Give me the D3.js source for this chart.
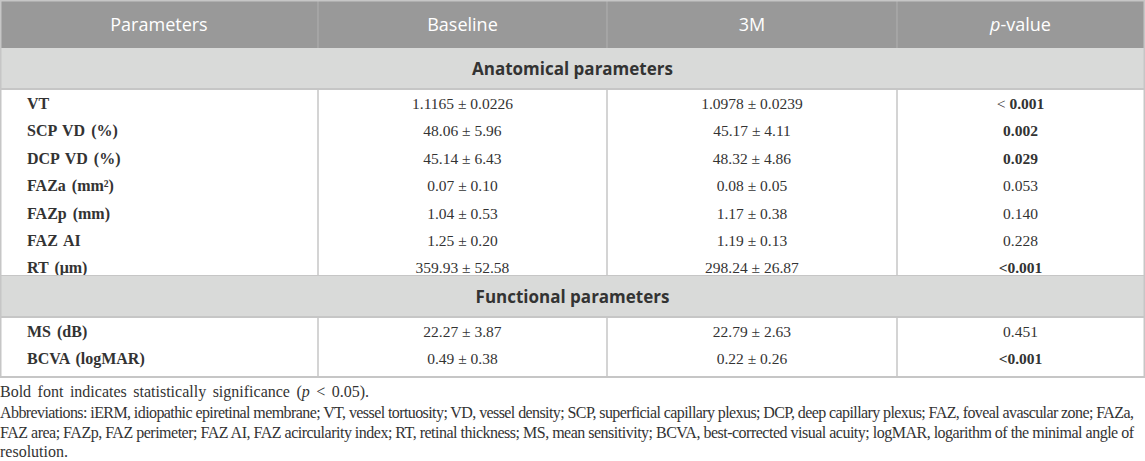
<!DOCTYPE html>
<html><head><meta charset="utf-8">
<script src="https://cdn.jsdelivr.net/npm/d3@7"></script>
<style>
html,body{margin:0;padding:0;background:#fff;}
svg{display:block;}
</style></head>
<body>
<svg id="chart" width="1145" height="461"></svg>
<script>
// ---------- data ----------
const headers = ["Parameters", "Baseline", "3M", "p-value"];
const sections = ["Anatomical parameters", "Functional parameters"];
const anatomicalParams = ["VT", "SCP VD (%)", "DCP VD (%)", "FAZa (mm²)", "FAZp (mm)", "FAZ AI", "RT (μm)"];
const anatomicalBaseline = ["1.1165 ± 0.0226", "48.06 ± 5.96", "45.14 ± 6.43", "0.07 ± 0.10", "1.04 ± 0.53", "1.25 ± 0.20", "359.93 ± 52.58"];
const anatomical3M = ["1.0978 ± 0.0239", "45.17 ± 4.11", "48.32 ± 4.86", "0.08 ± 0.05", "1.17 ± 0.38", "1.19 ± 0.13", "298.24 ± 26.87"];
const anatomicalP = ["< 0.001", "0.002", "0.029", "0.053", "0.140", "0.228", "<0.001"];
const anatomicalSig = [true, true, true, false, false, false, true];
const functionalParams = ["MS (dB)", "BCVA (logMAR)"];
const functionalBaseline = ["22.27 ± 3.87", "0.49 ± 0.38"];
const functional3M = ["22.79 ± 2.63", "0.22 ± 0.26"];
const functionalP = ["0.451", "<0.001"];
const functionalSig = [false, true];
const footnoteLines = [
  "Abbreviations: iERM, idiopathic epiretinal membrane; VT, vessel tortuosity; VD, vessel density; SCP, superficial capillary plexus; DCP, deep capillary plexus; FAZ, foveal avascular zone; FAZa,",
  "FAZ area; FAZp, FAZ perimeter; FAZ AI, FAZ acircularity index; RT, retinal thickness; MS, mean sensitivity; BCVA, best-corrected visual acuity; logMAR, logarithm of the minimal angle of",
  "resolution."
];

// ---------- layout ----------
const W = 1145;
const colEdges = [0, 318, 607, 897, 1144];
const lineC = "#c6c6c6", textC = "#333333";
const svg = d3.select("#chart");
const serif = "'Liberation Serif','Times New Roman',serif";
const sans = "'Open Sans','Noto Sans',sans-serif";
const rowStep = 27.4;

function center(i){ return (colEdges[i] + colEdges[i+1]) / 2; }

// header
svg.append("rect").attr("x",0).attr("y",0).attr("width",W).attr("height",48).attr("fill","#999999");
headers.forEach((h,i)=>{
  const t = svg.append("text").attr("x",center(i)).attr("y",31).attr("text-anchor","middle")
    .attr("font-family",sans).attr("font-size",18).attr("fill","#ffffff");
  if (h === "p-value") {
    t.append("tspan").attr("font-style","italic").text("p");
    t.append("tspan").text("-value");
  } else t.text(h);
});
colEdges.slice(1,4).forEach(x=>{
  svg.append("line").attr("x1",x).attr("x2",x).attr("y1",0).attr("y2",48).attr("stroke","#b0b0b0").attr("stroke-width",1);
});

function drawSection(title, top, bottom, params, base, m3, pv, sig){
  svg.append("rect").attr("x",0).attr("y",top).attr("width",W).attr("height",41).attr("fill","#d9dad9");
  svg.append("line").attr("x1",0).attr("x2",W).attr("y1",top+41).attr("y2",top+41).attr("stroke",lineC).attr("stroke-width",2);
  svg.append("text").attr("x",W/2).attr("y",top+27).attr("text-anchor","middle")
    .attr("font-family",sans).attr("font-weight","bold").attr("font-size",17).attr("fill",textC).text(title);
  const y = d3.scaleLinear().domain([0, 1]).range([top+56, top+56+rowStep]);
  colEdges.slice(1,4).forEach(x=>{
    svg.append("line").attr("x1",x).attr("x2",x).attr("y1",top+41).attr("y2",bottom).attr("stroke",lineC).attr("stroke-width",1.5);
  });
  const g = svg.append("g").attr("font-family",serif).attr("font-size",15.5).attr("fill",textC);
  params.forEach((p,i)=>{
    const yy = y(i) + 5;
    g.append("text").attr("x",27).attr("y",yy).attr("font-weight","bold").attr("font-size",16).attr("word-spacing",2).text(p);
    g.append("text").attr("x",center(1)).attr("y",yy).attr("text-anchor","middle").text(base[i]);
    g.append("text").attr("x",center(2)).attr("y",yy).attr("text-anchor","middle").text(m3[i]);
    const t = g.append("text").attr("x",center(3)).attr("y",yy).attr("text-anchor","middle");
    if (pv[i].startsWith("< ")) {
      t.append("tspan").text("< ");
      t.append("tspan").attr("font-weight", sig[i]?"bold":"normal").text(pv[i].slice(2));
    } else t.attr("font-weight", sig[i]?"bold":"normal").text(pv[i]);
  });
  svg.append("line").attr("x1",0).attr("x2",W).attr("y1",bottom).attr("y2",bottom).attr("stroke",lineC).attr("stroke-width",2);
}

drawSection(sections[0], 48, 276, anatomicalParams, anatomicalBaseline, anatomical3M, anatomicalP, anatomicalSig);
drawSection(sections[1], 276, 377, functionalParams, functionalBaseline, functional3M, functionalP, functionalSig);

// outer border
svg.append("rect").attr("x",0.75).attr("y",0.75).attr("width",W-1.5).attr("height",376).attr("fill","none").attr("stroke",lineC).attr("stroke-width",1.5);

// footnotes
const f = svg.append("g").attr("font-family",serif).attr("font-size",16).attr("fill",textC);
const b = f.append("text").attr("x",0).attr("y",397).attr("word-spacing",2.5);
b.append("tspan").text("Bold font indicates statistically significance (");
b.append("tspan").attr("font-style","italic").text("p");
b.append("tspan").text(" < 0.05).");
const fy = [418, 438, 457];
footnoteLines.forEach((l,i)=>{
  const t = f.append("text").attr("x",0).attr("y",fy[i]).text(l);
  if (i < 2) t.attr("textLength",1134).attr("lengthAdjust","spacing");
});
</script>
</body></html>
